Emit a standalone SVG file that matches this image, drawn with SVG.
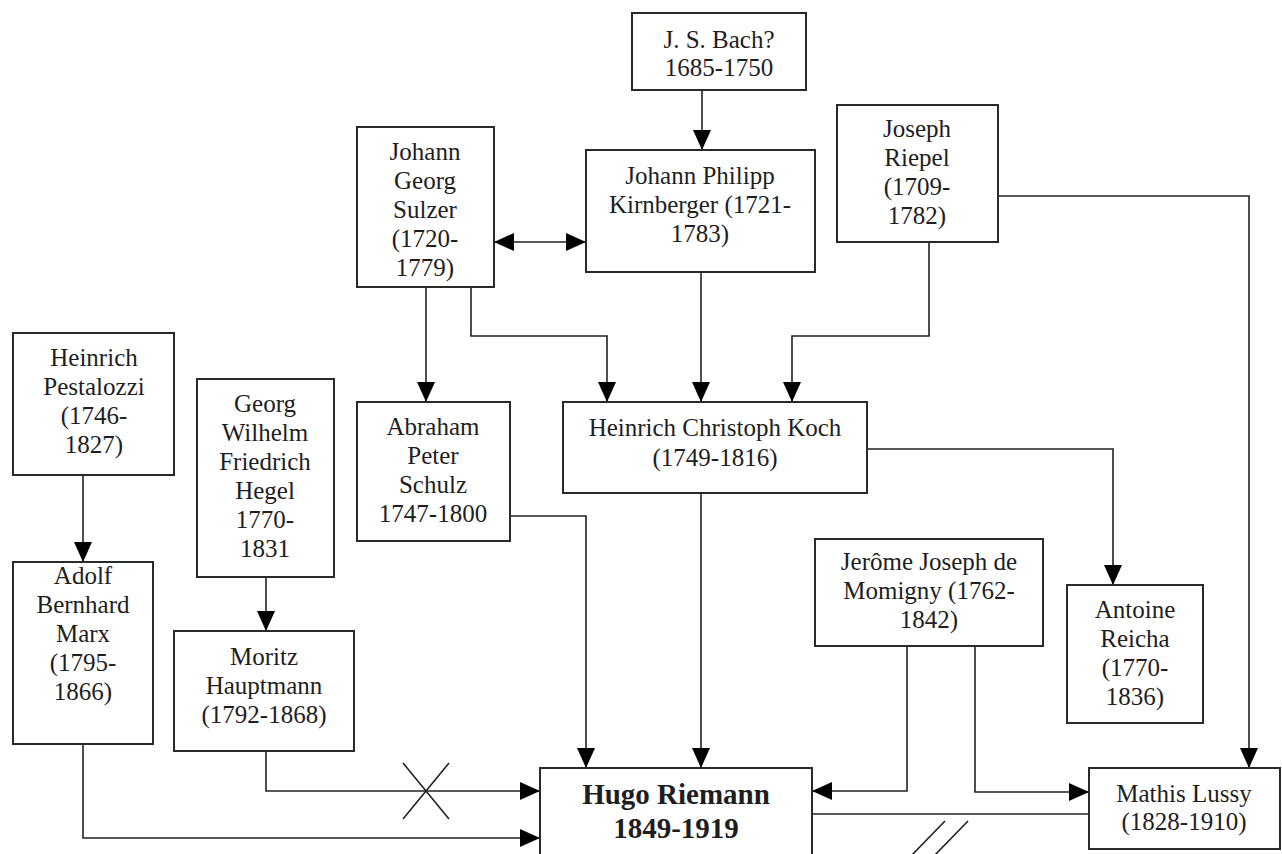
<svg xmlns="http://www.w3.org/2000/svg" width="1282" height="854" viewBox="0 0 1282 854">
<style>
.box{fill:#fff;stroke:#2a2a2a;stroke-width:2}
.t{font-family:"Liberation Serif","Times New Roman",serif;font-size:25px;fill:#1e1e1e;text-anchor:middle}
.b{font-weight:bold;font-size:29px}
.c{fill:none;stroke:#222;stroke-width:1.6}
.ca{fill:none;stroke:#222;stroke-width:1.6;marker-end:url(#ah)}
</style>
<defs>
<marker id="ah" viewBox="0 0 20 18" refX="20" refY="9" markerWidth="20" markerHeight="18" markerUnits="userSpaceOnUse" orient="auto-start-reverse">
<path d="M0,0 L20,9 L0,18 z" fill="#000"/>
</marker>
</defs>
<rect width="1282" height="854" fill="#fff"/>
<g id="connectors">
<path class="ca" d="M702,90 V150"/>
<path class="ca" d="M494,242 H586" style="marker-start:url(#ah)"/>
<path class="ca" d="M426,287 V402"/>
<path class="ca" d="M471,287 V336 H607 V402"/>
<path class="ca" d="M701,272 V402"/>
<path class="ca" d="M929,242 V336 H792 V402"/>
<path class="ca" d="M998,196 H1249 V768"/>
<path class="ca" d="M867,449 H1113 V585"/>
<path class="ca" d="M701,493 V768"/>
<path class="ca" d="M510,516 H586 V768"/>
<path class="ca" d="M83,475 V562"/>
<path class="ca" d="M266,577 V631"/>
<path class="ca" d="M266,751 V791 H540"/>
<path class="ca" d="M83,744 V838 H540"/>
<path class="ca" d="M907,646 V791 H812"/>
<path class="ca" d="M975,646 V792 H1089"/>
<path class="c" d="M812,814 H1089"/>
<path class="c" d="M403,763 L449,819 M449,763 L403,819"/>
<path class="c" d="M945,821 L911,856 M968,821 L934,856"/>
</g>
<g id="bach"><rect class="box" x="632" y="13" width="174" height="77"/>
<text class="t" x="719" y="48">J. S. Bach?</text><text class="t" x="719" y="76">1685-1750</text></g>
<g id="kirnberger"><rect class="box" x="586" y="150" width="229" height="122"/>
<text class="t" x="700" y="184">Johann Philipp</text><text class="t" x="700" y="213">Kirnberger (1721-</text><text class="t" x="700" y="242">1783)</text></g>
<g id="sulzer"><rect class="box" x="357" y="127" width="137" height="160"/>
<text class="t" x="425" y="160">Johann</text><text class="t" x="425" y="189">Georg</text><text class="t" x="425" y="218">Sulzer</text><text class="t" x="425" y="247">(1720-</text><text class="t" x="425" y="276">1779)</text></g>
<g id="riepel"><rect class="box" x="837" y="105" width="161" height="137"/>
<text class="t" x="917" y="137">Joseph</text><text class="t" x="917" y="166">Riepel</text><text class="t" x="917" y="195">(1709-</text><text class="t" x="917" y="224">1782)</text></g>
<g id="pestalozzi"><rect class="box" x="13" y="333" width="161" height="142"/>
<text class="t" x="94" y="366">Heinrich</text><text class="t" x="94" y="395">Pestalozzi</text><text class="t" x="94" y="424">(1746-</text><text class="t" x="94" y="453">1827)</text></g>
<g id="hegel"><rect class="box" x="197" y="379" width="137" height="198"/>
<text class="t" x="265" y="412">Georg</text><text class="t" x="265" y="441">Wilhelm</text><text class="t" x="265" y="470">Friedrich</text><text class="t" x="265" y="499">Hegel</text><text class="t" x="265" y="528">1770-</text><text class="t" x="265" y="557">1831</text></g>
<g id="schulz"><rect class="box" x="357" y="402" width="153" height="139"/>
<text class="t" x="433" y="435">Abraham</text><text class="t" x="433" y="464">Peter</text><text class="t" x="433" y="493">Schulz</text><text class="t" x="433" y="522">1747-1800</text></g>
<g id="koch"><rect class="box" x="563" y="402" width="304" height="91"/>
<text class="t" x="715" y="436">Heinrich Christoph Koch</text><text class="t" x="715" y="466">(1749-1816)</text></g>
<g id="marx"><rect class="box" x="13" y="562" width="140" height="182"/>
<text class="t" x="83" y="584">Adolf</text><text class="t" x="83" y="613">Bernhard</text><text class="t" x="83" y="642">Marx</text><text class="t" x="83" y="671">(1795-</text><text class="t" x="83" y="700">1866)</text></g>
<g id="hauptmann"><rect class="box" x="174" y="631" width="180" height="120"/>
<text class="t" x="264" y="665">Moritz</text><text class="t" x="264" y="694">Hauptmann</text><text class="t" x="264" y="723">(1792-1868)</text></g>
<g id="momigny"><rect class="box" x="815" y="539" width="228" height="107"/>
<text class="t" x="929" y="570">Jerôme Joseph de</text><text class="t" x="929" y="599">Momigny (1762-</text><text class="t" x="929" y="628">1842)</text></g>
<g id="reicha"><rect class="box" x="1067" y="585" width="136" height="138"/>
<text class="t" x="1135" y="618">Antoine</text><text class="t" x="1135" y="647">Reicha</text><text class="t" x="1135" y="676">(1770-</text><text class="t" x="1135" y="705">1836)</text></g>
<g id="lussy"><rect class="box" x="1089" y="768" width="191" height="81"/>
<text class="t" x="1184" y="802">Mathis Lussy</text><text class="t" x="1184" y="830">(1828-1910)</text></g>
<g id="riemann"><rect class="box" x="540" y="768" width="272" height="100"/>
<text class="t b" x="676" y="804">Hugo Riemann</text><text class="t b" x="676" y="838">1849-1919</text></g>
</svg>
